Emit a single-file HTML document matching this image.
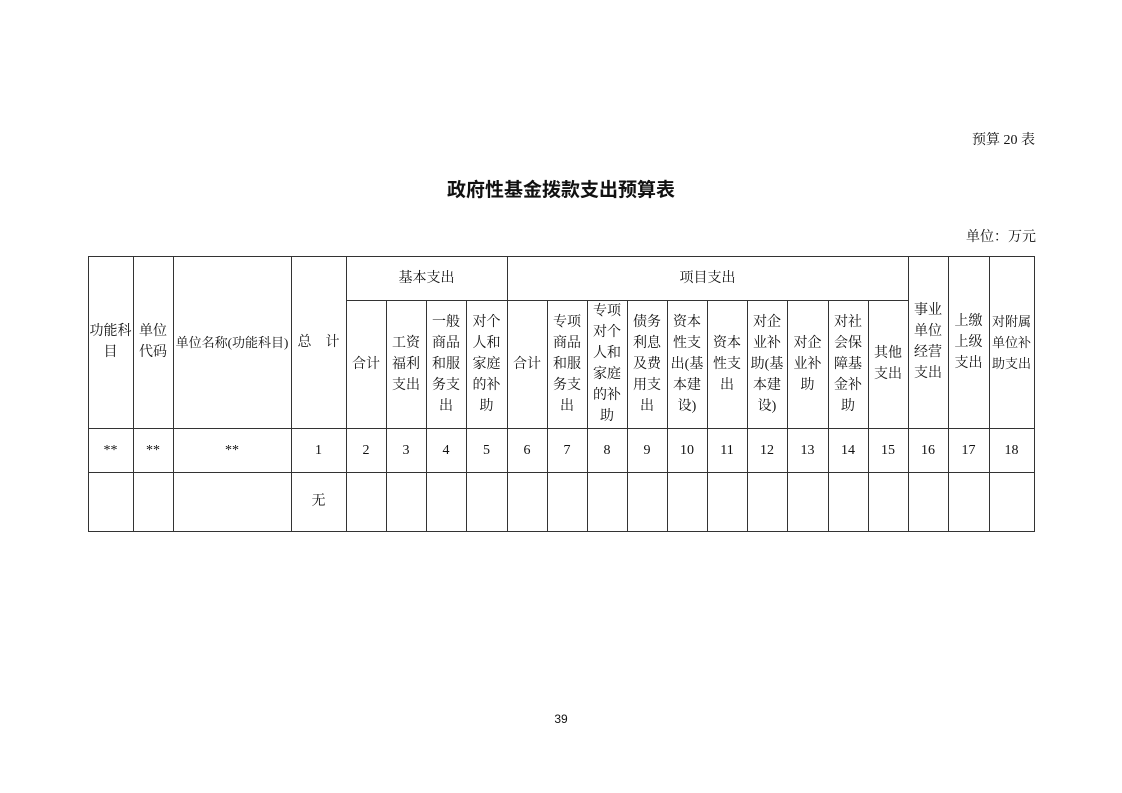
<!DOCTYPE html>
<html><head><meta charset="utf-8"><style>
body{margin:0;width:1122px;height:793px;background:#fff;position:relative;overflow:hidden;font-family:"Liberation Serif","Noto Serif CJK SC",serif;color:#111}
.c{position:absolute;display:flex;align-items:center;justify-content:center;text-align:center;font-size:14px;line-height:21px;box-sizing:border-box}
.h{position:absolute;height:1px;background:#333}
.v{position:absolute;width:1px;background:#333}
</style></head><body>
<div style="position:absolute;left:972px;top:129px;font-size:14px">预算 20 表</div>
<div style="position:absolute;left:0;width:1122px;top:175px;text-align:center;font-size:19px;font-weight:bold;font-family:'Noto Sans CJK SC','Liberation Sans',sans-serif">政府性基金拨款支出预算表</div>
<div style="position:absolute;left:966px;top:226px;font-size:14px">单位：万元</div>
<div style="position:absolute;left:0;width:1122px;top:712px;text-align:center;font-size:12px;font-family:'Liberation Sans',sans-serif">39</div>

<div class="h" style="left:88px;width:947px;top:256px"></div>
<div class="h" style="left:346px;width:562px;top:300px"></div>
<div class="h" style="left:88px;width:947px;top:428px"></div>
<div class="h" style="left:88px;width:947px;top:472px"></div>
<div class="h" style="left:88px;width:947px;top:531px"></div>

<div class="v" style="left:88px;top:256px;height:276px"></div>
<div class="v" style="left:133px;top:256px;height:276px"></div>
<div class="v" style="left:173px;top:256px;height:276px"></div>
<div class="v" style="left:291px;top:256px;height:276px"></div>
<div class="v" style="left:346px;top:256px;height:276px"></div>
<div class="v" style="left:507px;top:256px;height:276px"></div>
<div class="v" style="left:908px;top:256px;height:276px"></div>
<div class="v" style="left:948px;top:256px;height:276px"></div>
<div class="v" style="left:989px;top:256px;height:276px"></div>
<div class="v" style="left:1034px;top:256px;height:276px"></div>
<div class="v" style="left:386px;top:300px;height:232px"></div>
<div class="v" style="left:426px;top:300px;height:232px"></div>
<div class="v" style="left:466px;top:300px;height:232px"></div>
<div class="v" style="left:547px;top:300px;height:232px"></div>
<div class="v" style="left:587px;top:300px;height:232px"></div>
<div class="v" style="left:627px;top:300px;height:232px"></div>
<div class="v" style="left:667px;top:300px;height:232px"></div>
<div class="v" style="left:707px;top:300px;height:232px"></div>
<div class="v" style="left:747px;top:300px;height:232px"></div>
<div class="v" style="left:787px;top:300px;height:232px"></div>
<div class="v" style="left:828px;top:300px;height:232px"></div>
<div class="v" style="left:868px;top:300px;height:232px"></div>

<div class="c" style="left:88px;width:45px;top:256px;height:172px">功能科<br>目</div>
<div class="c" style="left:133px;width:40px;top:256px;height:172px">单位<br>代码</div>
<div class="c" style="left:173px;width:118px;top:256px;height:172px;font-size:13px">单位名称(功能科目)</div>
<div class="c" style="left:291px;width:55px;top:256px;height:172px">总　计</div>
<div class="c" style="left:346px;width:161px;top:256px;height:44px">基本支出</div>
<div class="c" style="left:507px;width:401px;top:256px;height:44px">项目支出</div>
<div class="c" style="left:908px;width:40px;top:256px;height:172px">事业<br>单位<br>经营<br>支出</div>
<div class="c" style="left:948px;width:41px;top:256px;height:172px">上缴<br>上级<br>支出</div>
<div class="c" style="left:989px;width:45px;top:256px;height:172px;font-size:13px">对附属<br>单位补<br>助支出</div>

<div class="c" style="left:346px;width:40px;top:300px;height:128px">合计</div>
<div class="c" style="left:386px;width:40px;top:300px;height:128px">工资<br>福利<br>支出</div>
<div class="c" style="left:426px;width:40px;top:300px;height:128px">一般<br>商品<br>和服<br>务支<br>出</div>
<div class="c" style="left:466px;width:41px;top:300px;height:128px">对个<br>人和<br>家庭<br>的补<br>助</div>
<div class="c" style="left:507px;width:40px;top:300px;height:128px">合计</div>
<div class="c" style="left:547px;width:40px;top:300px;height:128px">专项<br>商品<br>和服<br>务支<br>出</div>
<div class="c" style="left:587px;width:40px;top:300px;height:128px">专项<br>对个<br>人和<br>家庭<br>的补<br>助</div>
<div class="c" style="left:627px;width:40px;top:300px;height:128px">债务<br>利息<br>及费<br>用支<br>出</div>
<div class="c" style="left:667px;width:40px;top:300px;height:128px">资本<br>性支<br>出(基<br>本建<br>设)</div>
<div class="c" style="left:707px;width:40px;top:300px;height:128px">资本<br>性支<br>出</div>
<div class="c" style="left:747px;width:40px;top:300px;height:128px">对企<br>业补<br>助(基<br>本建<br>设)</div>
<div class="c" style="left:787px;width:41px;top:300px;height:128px">对企<br>业补<br>助</div>
<div class="c" style="left:828px;width:40px;top:300px;height:128px">对社<br>会保<br>障基<br>金补<br>助</div>
<div class="c" style="left:868px;width:40px;top:300px;height:128px">其他<br>支出</div>

<div class="c" style="left:88px;width:45px;top:428px;height:44px">**</div>
<div class="c" style="left:133px;width:40px;top:428px;height:44px">**</div>
<div class="c" style="left:173px;width:118px;top:428px;height:44px">**</div>
<div class="c" style="left:291px;width:55px;top:428px;height:44px">1</div>
<div class="c" style="left:346px;width:40px;top:428px;height:44px">2</div>
<div class="c" style="left:386px;width:40px;top:428px;height:44px">3</div>
<div class="c" style="left:426px;width:40px;top:428px;height:44px">4</div>
<div class="c" style="left:466px;width:41px;top:428px;height:44px">5</div>
<div class="c" style="left:507px;width:40px;top:428px;height:44px">6</div>
<div class="c" style="left:547px;width:40px;top:428px;height:44px">7</div>
<div class="c" style="left:587px;width:40px;top:428px;height:44px">8</div>
<div class="c" style="left:627px;width:40px;top:428px;height:44px">9</div>
<div class="c" style="left:667px;width:40px;top:428px;height:44px">10</div>
<div class="c" style="left:707px;width:40px;top:428px;height:44px">11</div>
<div class="c" style="left:747px;width:40px;top:428px;height:44px">12</div>
<div class="c" style="left:787px;width:41px;top:428px;height:44px">13</div>
<div class="c" style="left:828px;width:40px;top:428px;height:44px">14</div>
<div class="c" style="left:868px;width:40px;top:428px;height:44px">15</div>
<div class="c" style="left:908px;width:40px;top:428px;height:44px">16</div>
<div class="c" style="left:948px;width:41px;top:428px;height:44px">17</div>
<div class="c" style="left:989px;width:45px;top:428px;height:44px">18</div>
<div class="c" style="left:291px;width:55px;top:472px;height:59px">无</div>
</body></html>
